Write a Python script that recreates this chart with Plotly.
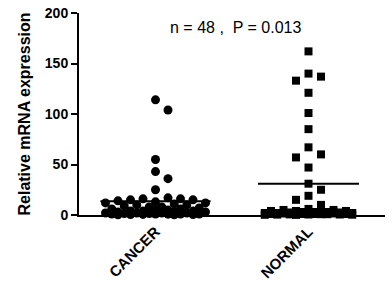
import plotly.graph_objects as go
import numpy as np

categories = ["CANCER", "NORMAL"]
cancer_values = [114, 104, 55, 43, 36, 25,
                 17, 16, 16, 15, 15, 14, 13, 12, 12, 11, 10, 10, 9, 8, 8,
                 7, 6, 6, 5, 5, 4, 4, 4, 3, 3, 3, 2, 2, 2, 2, 1.5, 1.5,
                 1, 1, 1, 1, 0.8, 0.6, 0.5, 0.4, 0.3, 0.2]
normal_values = [162, 140, 137, 133, 121, 101, 85, 67, 60, 57, 47, 31, 25, 19, 15, 10,
                 6, 5, 5, 4, 4, 4, 3, 3, 3, 3, 2.5, 2.5, 2, 2, 2, 2, 1.5, 1.5, 1.5,
                 1, 1, 1, 1, 0.8, 0.8, 0.6, 0.5, 0.5, 0.4, 0.3, 0.2, 0.1]
mean_values = [13.5, 31]
y_ticks = [0, 50, 100, 150, 200]
annotation_text = "n = 48 ,  P = 0.013"

PX_PER_X = 153.0
PX_PER_Y = 202.0 / 200.0


def swarm(values, max_px, step_px=6.25, min_dist=12.0):
    # deterministic beeswarm: tallest points first, nearest free slot to centre
    order = np.argsort(values)[::-1]
    placed = []
    offs = [0.0] * len(values)
    kmax = int(max_px // step_px)
    cands = [0]
    for k in range(1, kmax + 1):
        cands += [k, -k]
    for i in order:
        yp = values[i] * PX_PER_Y
        best, bestd = 0, -1
        for k in cands:
            xp = k * step_px
            d = min([np.hypot(xp - a, yp - b) for a, b in placed] or [1e9])
            if d >= min_dist:
                best, bestd = k, d
                break
            if d > bestd + 0.5:
                best, bestd = k, d
        xp = best * step_px
        placed.append((xp, yp))
        offs[i] = xp / PX_PER_X
    return offs


c_off = swarm(cancer_values, 50)
n_off = swarm(normal_values, 47)

fig = go.Figure()
fig.add_trace(go.Scatter(
    x=[0 + o for o in c_off], y=cancer_values, mode="markers",
    marker=dict(symbol="circle", size=9, color="black", line=dict(width=0)),
    cliponaxis=False, showlegend=False, hoverinfo="skip"))
fig.add_trace(go.Scatter(
    x=[1 + o for o in n_off], y=normal_values, mode="markers",
    marker=dict(symbol="square", size=8, color="black", line=dict(width=0)),
    cliponaxis=False, showlegend=False, hoverinfo="skip"))

half = [0.36, 0.33]
for i, m in enumerate(mean_values):
    fig.add_trace(go.Scatter(
        x=[i - half[i], i + half[i]], y=[m, m], mode="lines",
        line=dict(color="black", width=2), cliponaxis=False, showlegend=False,
        hoverinfo="skip"))

fig.add_annotation(x=0.52, y=0.98, xref="x", yref="paper", yanchor="top",
                   text=annotation_text, showarrow=False,
                   font=dict(family="Liberation Sans, Arial", size=16, color="black"))

fig.update_layout(
    width=392, height=288,
    margin=dict(l=79, r=7, t=13, b=73, autoexpand=False),
    plot_bgcolor="white", paper_bgcolor="white",
    font=dict(family="Liberation Sans, Arial", color="black"),
    xaxis=dict(range=[-0.5, 1.5], tickmode="array", tickvals=[0, 1],
               ticktext=["<b>%s</b>" % c for c in categories],
               tickangle=-45, showline=True, linecolor="black", linewidth=2,
               ticks="", showgrid=False, zeroline=False, automargin=False,
               tickfont=dict(size=15, color="black")),
    yaxis=dict(range=[0, 200], tickmode="array", tickvals=y_ticks,
               ticktext=["<b>%d</b>" % t for t in y_ticks],
               showline=True, linecolor="black", linewidth=2,
               ticks="outside", ticklen=6, tickwidth=2, tickcolor="black",
               showgrid=False, zeroline=False, automargin=False,
               tickfont=dict(size=14, color="black"),
               title=dict(text="<b>Relative mRNA expression</b>",
                          font=dict(size=16, color="black"), standoff=10)),
)

fig.write_html("out.html",
               config={"displayModeBar": False, "staticPlot": True},
               post_script="document.body.style.margin='0';document.body.style.overflow='hidden';")
